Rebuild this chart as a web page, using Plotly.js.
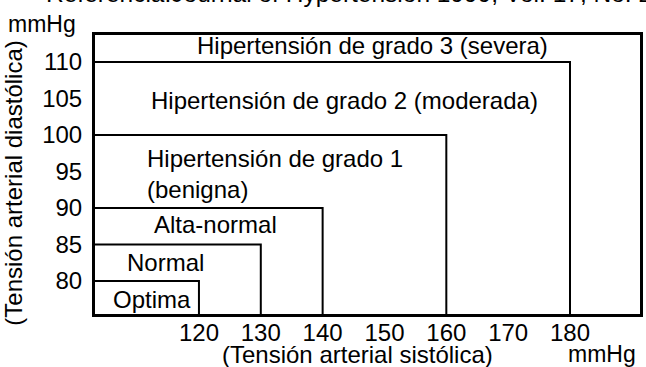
<!DOCTYPE html>
<html>
<head>
<meta charset="utf-8">
<script src="https://cdn.plot.ly/plotly-3.0.1.min.js"></script>
<style>
  html, body { margin: 0; padding: 0; background: #fff; }
  #chart { width: 646px; height: 367px; }
</style>
</head>
<body>
<div id="chart"></div>
<script>
// categories and upper limits (mmHg)
const categories = ['Optima', 'Normal', 'Alta-normal',
  'Hipertensión de grado 1<br>(benigna)',
  'Hipertensión de grado 2 (moderada)',
  'Hipertensión de grado 3 (severa)'];
const sistolica = [120, 130, 140, 160, 180];
const diastolica = [80, 85, 90, 100, 110];
const xTicks = [120, 130, 140, 150, 160, 170, 180];
const yTicks = [80, 85, 90, 95, 100, 105, 110];

const xRange = [103.19, 191.32];
const yRange = [75.48, 113.7];

const FONT = 'Liberation Sans, Arial, sans-serif';

// one corner line per limit: top edge then right edge
const traces = sistolica.map((s, i) => ({
  x: [xRange[0], s, s],
  y: [diastolica[i], diastolica[i], yRange[0]],
  type: 'scatter',
  mode: 'lines',
  line: { color: '#000', width: 2 },
  hoverinfo: 'skip',
  showlegend: false
}));

// label spots inside each zone
const labelPos = [
  { x: 112.4, y: 77.5, xanchor: 'center' },
  { x: 114.6, y: 82.5, xanchor: 'center' },
  { x: 122.6, y: 87.8, xanchor: 'center' },
  { x: 111.2, y: 94.7, xanchor: 'left' },
  { x: 143.6, y: 104.7, xanchor: 'center' },
  { x: 148.0, y: 112.2, xanchor: 'center' }
];

const annotations = categories.map((c, i) => ({
  text: c,
  x: labelPos[i].x,
  y: labelPos[i].y,
  xref: 'x', yref: 'y',
  xanchor: labelPos[i].xanchor,
  yanchor: 'middle',
  align: 'left',
  showarrow: false,
  font: { family: FONT, size: 24, color: '#000' }
}));

annotations.push(
  { text: 'mmHg', xref: 'paper', yref: 'paper', x: -0.097, y: 1.04,
    xanchor: 'center', yanchor: 'middle', showarrow: false,
    font: { family: FONT, size: 23, color: '#000' } },
  { text: 'mmHg', xref: 'paper', yref: 'paper', x: 0.93, y: -0.143,
    xanchor: 'center', yanchor: 'middle', showarrow: false,
    font: { family: FONT, size: 23, color: '#000' } },
  { text: '(Tensión arterial sistólica)', xref: 'paper', yref: 'paper', x: 0.481, y: -0.146,
    xanchor: 'center', yanchor: 'middle', showarrow: false,
    font: { family: FONT, size: 24, color: '#000' } },
  { text: '(Tensión arterial diastólica)', xref: 'paper', yref: 'paper', x: -0.149, y: 0.47,
    xanchor: 'center', yanchor: 'middle', textangle: -90, showarrow: false,
    font: { family: FONT, size: 24, color: '#000' } },
  { text: 'Referencia:Journal of Hypertension 1999, Vol. 17, No. 2', xref: 'paper', yref: 'paper',
    x: -0.094, y: 1.093, xanchor: 'left', yanchor: 'bottom', showarrow: false,
    font: { family: FONT, size: 24.5, color: '#000' } }
);

const layout = {
  width: 646,
  height: 367,
  margin: { l: 95, r: 6, t: 35, b: 53 },
  paper_bgcolor: '#fff',
  plot_bgcolor: '#fff',
  showlegend: false,
  xaxis: {
    range: xRange,
    tickvals: xTicks,
    ticktext: xTicks.map(String),
    showgrid: false, zeroline: false,
    showline: true, mirror: true, linewidth: 3, linecolor: '#000',
    ticks: '', ticklabelstandoff: -5,
    tickfont: { family: FONT, size: 24, color: '#000' },
    fixedrange: true
  },
  yaxis: {
    range: yRange,
    tickvals: yTicks,
    ticktext: yTicks.map(String),
    showgrid: false, zeroline: false,
    showline: true, mirror: true, linewidth: 3, linecolor: '#000',
    ticks: '', ticklabelstandoff: 5,
    tickfont: { family: FONT, size: 24, color: '#000' },
    fixedrange: true
  },
  annotations: annotations
};

Plotly.newPlot('chart', traces, layout, { displayModeBar: false, staticPlot: true });
</script>
</body>
</html>
